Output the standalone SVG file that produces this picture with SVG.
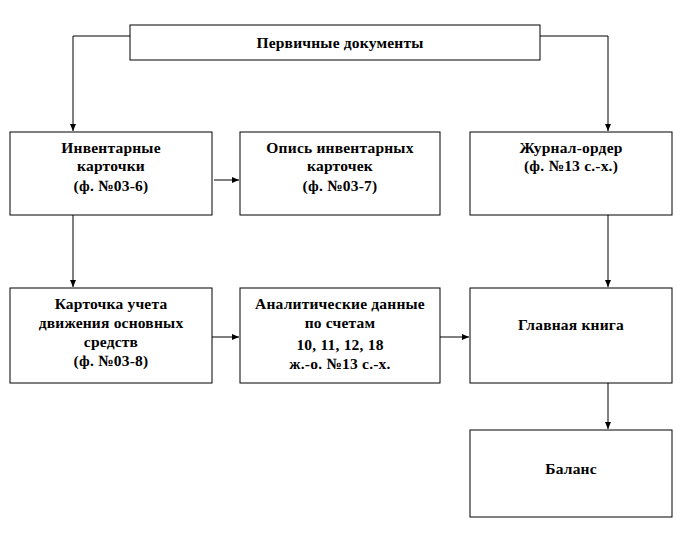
<svg xmlns="http://www.w3.org/2000/svg" width="676" height="540" viewBox="0 0 676 540">
<style>
rect{fill:#fff;stroke:#000;stroke-width:1}
text{font-family:"Liberation Serif",serif;font-weight:bold;font-size:15.5px;letter-spacing:0.2px;text-anchor:middle}
.c line{stroke:#000;stroke-width:1}
</style>
<defs><marker id="a" markerWidth="8" markerHeight="8" refX="7" refY="4" orient="auto" markerUnits="userSpaceOnUse"><path d="M0,1 L7,4 L0,7 Z" fill="#000"/></marker></defs>
<rect width="676" height="540" style="stroke:none"/>
<g class="c">
<line x1="130" y1="36" x2="73" y2="36"/><line x1="73" y1="36" x2="73" y2="131" marker-end="url(#a)"/>
<line x1="540" y1="36" x2="608" y2="36"/><line x1="608" y1="36" x2="608" y2="131" marker-end="url(#a)"/>
<line x1="214" y1="180" x2="239" y2="180" marker-end="url(#a)"/>
<line x1="73" y1="215" x2="73" y2="287" marker-end="url(#a)"/>
<line x1="608" y1="215" x2="608" y2="287" marker-end="url(#a)"/>
<line x1="212" y1="337" x2="239" y2="337" marker-end="url(#a)"/>
<line x1="440" y1="337" x2="469" y2="337" marker-end="url(#a)"/>
<line x1="608" y1="383" x2="608" y2="429" marker-end="url(#a)"/>
</g>
<g id="n0"><rect x="130" y="25" width="410" height="35"/><text x="340" y="48">Первичные документы</text></g>
<g id="n1"><rect x="10" y="132" width="202" height="83"/><text x="111" y="153">Инвентарные</text><text x="111" y="171">карточки</text><text x="111" y="191">(ф. №03-6)</text></g>
<g id="n2"><rect x="240" y="132" width="200" height="83"/><text x="340" y="153">Опись инвентарных</text><text x="340" y="171">карточек</text><text x="340" y="191">(ф. №03-7)</text></g>
<g id="n3"><rect x="470" y="132" width="202" height="83"/><text x="571" y="153">Журнал-ордер</text><text x="571" y="171">(ф. №13 с.-х.)</text></g>
<g id="n4"><rect x="10" y="288" width="202" height="95"/><text x="111" y="309">Карточка учета</text><text x="111" y="328">движения основных</text><text x="111" y="347">средств</text><text x="111" y="366">(ф. №03-8)</text></g>
<g id="n5"><rect x="240" y="288" width="200" height="95"/><text x="340" y="309">Аналитические данные</text><text x="340" y="328">по счетам</text><text x="340" y="350">10, 11, 12, 18</text><text x="340" y="369">ж.-о. №13 с.-х.</text></g>
<g id="n6"><rect x="470" y="288" width="202" height="95"/><text x="571" y="330">Главная книга</text></g>
<g id="n7"><rect x="470" y="430" width="202" height="87"/><text x="571" y="474">Баланс</text></g>
</svg>
